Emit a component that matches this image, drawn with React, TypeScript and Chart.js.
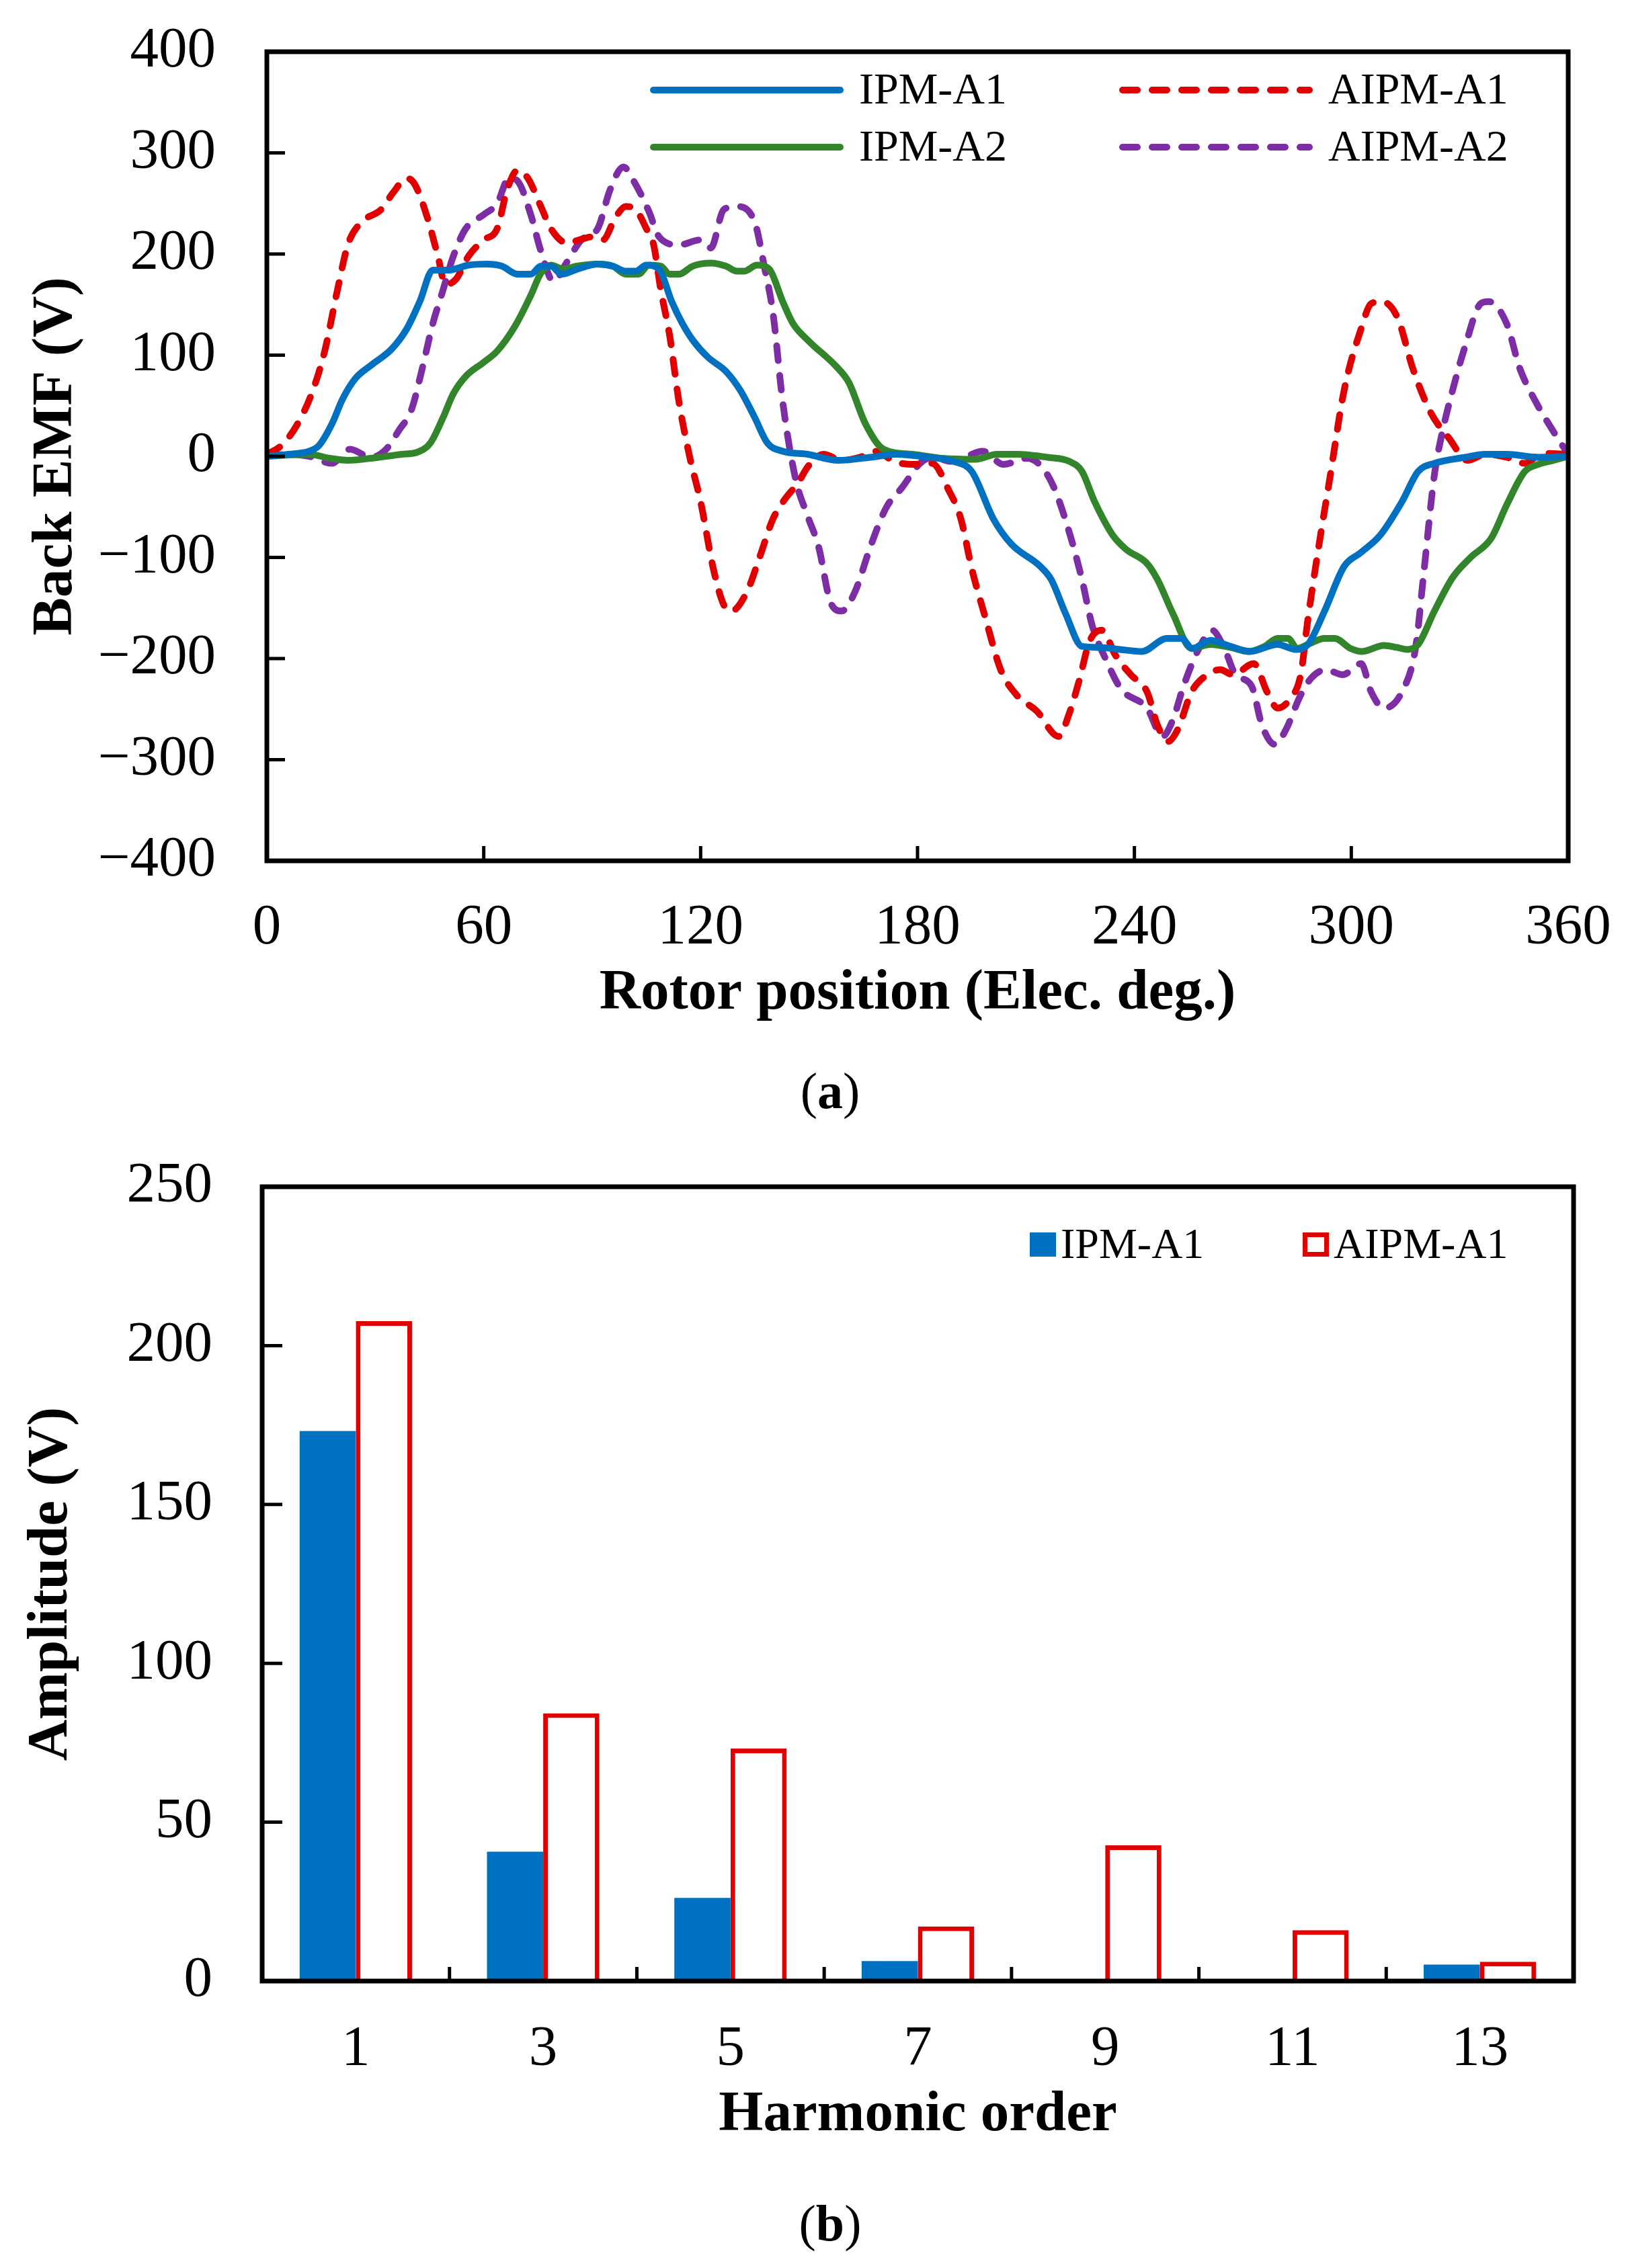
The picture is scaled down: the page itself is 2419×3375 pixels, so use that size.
import { useEffect, useRef } from "react";
import { Chart, registerables } from "chart.js";

Chart.register(...registerables);

const FONT = "'Liberation Serif', 'Times New Roman', serif";

// ---- (a) back EMF waveforms ----
const ipmA1Deg = [0, 6, 11.7, 14.5, 18, 21, 24.5, 28.8, 34.5, 38.7, 42.3, 45.9, 50, 55.8, 60.8, 65, 69.4, 73, 75.8, 78.6, 81.5, 85.8, 91.5, 95.7, 99.3, 102, 105, 108.5, 112, 115, 117.8, 122, 127, 131, 135, 138.5, 142.7, 149.6, 158, 167, 174, 183, 190, 195, 201, 206, 214, 217, 221, 225.5, 230.5, 236, 242, 249, 253, 256, 261, 266.6, 272, 279.6, 284.6, 288, 292.6, 298, 302.7, 308, 314, 318.5, 323, 331.5, 337, 343, 351.7, 360];
const ipmA1Emf = [0, 2, 5, 11, 32, 57, 77, 90, 106, 126, 153, 184, 184, 189, 190, 188, 180, 180, 188, 188, 180, 185, 190, 188, 183, 183, 189, 185, 153, 131, 115, 98, 84, 65, 38, 13, 5, 2, -4, -1, 2, -1, -5, -15, -62, -87, -109, -122, -156, -188, -189, -191, -193, -180, -180, -190, -182, -188, -193, -186, -191, -186, -153, -109, -95, -78, -45, -15, -7, -1, 2, 2, -1, 0];

const ipmA2Deg = [0, 11.7, 17.4, 22.4, 28.8, 37.3, 41.6, 45.2, 48.7, 51.6, 55, 60, 63.7, 68.7, 73, 75.8, 78.6, 82, 85.8, 91.5, 95.7, 99.3, 102.8, 105.7, 109, 111.4, 114, 117.8, 122.8, 127, 130, 132, 135.6, 139, 142.7, 145.6, 149.6, 158, 161, 165.6, 170.6, 178.6, 187, 196, 202, 207.4, 216, 222, 225.5, 229, 234, 237.7, 243.5, 246.4, 250.7, 255.8, 261, 266.6, 271.6, 276, 279.6, 282.5, 285, 288, 292.6, 295.4, 299.8, 303, 309, 312.6, 315.6, 318.5, 323, 328, 333, 338.7, 343, 348, 351.7, 356, 360];
const ipmA2Emf = [0, 2, -2, -4, -2, 2, 4, 13, 38, 62, 79, 93, 104, 129, 159, 181, 189, 185, 188, 190, 188, 180, 180, 189, 188, 180, 180, 188, 191, 188, 183, 183, 189, 185, 153, 131, 115, 87, 73, 32, 7, 2, -2, -3, 2, 2, -1, -5, -15, -45, -78, -92, -106, -122, -156, -190, -186, -189, -193, -188, -180, -180, -190, -186, -180, -180, -190, -193, -187, -189, -191, -186, -153, -120, -100, -81, -48, -15, -8, -4, 0];

const aipmA1Deg = [0, 3.8, 8, 12.4, 16, 19.5, 22.4, 26, 31.6, 35, 38.7, 40.9, 44.4, 47.3, 49.4, 52.3, 55.8, 60, 63.7, 66.5, 69.4, 72.2, 75.8, 78.6, 83, 86.5, 90, 93, 96.4, 99.3, 102, 105, 107, 109, 111.4, 114, 117, 120, 123.5, 126.4, 128.5, 132.8, 136.3, 140, 143.4, 147, 149.7, 154, 159, 164, 168.5, 173.5, 178.6, 184, 188.7, 192, 195, 198.8, 203, 207.4, 213, 219, 222, 224.7, 227.6, 231, 234.8, 239, 243.5, 246.4, 249.3, 252, 255.8, 259, 263.7, 267.3, 273, 276.7, 279.6, 283, 286, 288, 291, 294, 298, 302.7, 305.5, 308.4, 312.8, 317, 322, 327, 332.2, 337, 343, 348, 353, 360];
const aipmA1Emf = [2, 10, 29, 62, 104, 164, 209, 231, 244, 261, 275, 269, 236, 198, 170, 175, 198, 214, 225, 264, 283, 275, 247, 225, 211, 214, 217, 214, 236, 247, 244, 225, 209, 164, 120, 54, -1, -45, -111, -147, -153, -134, -100, -62, -42, -26, -10, 2, -4, -1, 5, -5, -8, -7, -34, -62, -111, -160, -211, -236, -252, -277, -254, -222, -183, -172, -197, -216, -233, -266, -282, -270, -233, -219, -211, -216, -205, -233, -249, -240, -216, -161, -89, -23, 65, 126, 151, 153, 137, 87, 43, 18, -4, 2, -1, -7, 3, 2];

const aipmA2Deg = [0, 6, 11.7, 18, 23, 28.8, 33, 36.6, 40, 43, 45.9, 48.7, 51.6, 55, 60, 63.7, 67, 69.4, 73, 75.8, 79.3, 83, 87, 91.5, 95, 98.6, 102, 105.7, 108.5, 114, 120, 122.8, 126.4, 130, 135, 137.7, 140, 142.7, 146.3, 149.7, 152.6, 156, 159, 162.7, 167, 171.3, 175.7, 180.7, 184.3, 189.4, 193, 198, 203.8, 210.3, 214, 217.5, 221.8, 225.5, 228.3, 232, 236.3, 243.5, 247.8, 250.7, 253.6, 258, 261.5, 265, 268, 272.4, 275.3, 278.9, 281.8, 286, 289, 293, 297.6, 302.7, 305.5, 309, 314, 317.8, 320, 323, 325, 328, 331.5, 335.8, 338, 343, 346.6, 351, 356, 360];
const aipmA2Emf = [0, 2, 0, -7, 7, -1, 7, 26, 46, 87, 131, 164, 198, 225, 239, 250, 275, 272, 239, 203, 173, 192, 214, 225, 264, 286, 269, 242, 217, 209, 214, 206, 244, 247, 231, 186, 142, 54, -23, -60, -89, -145, -153, -134, -89, -51, -31, -7, -1, -5, -1, 5, -8, -2, -9, -29, -73, -122, -167, -200, -230, -249, -277, -260, -227, -189, -172, -191, -216, -227, -266, -285, -271, -236, -219, -211, -216, -205, -233, -249, -233, -189, -117, -18, 21, 65, 109, 151, 153, 131, 87, 54, 24, 2];

// ---- (b) harmonic spectrum ----
const harmonicOrders = ["1", "3", "5", "7", "9", "11", "13"];
const ipmA1Amp = [173.1, 40.7, 26.2, 6.3, 0.5, 0.5, 5.2];
const aipmA1Amp = [207.7, 84.3, 73.2, 17.2, 42.7, 16, 6.1];

const toPoints = (xs: number[], ys: number[]) => xs.map((x, i) => ({ x, y: ys[i] }));
const minusFmt = (v: any) => (Number(v) < 0 ? "\u2212" + Math.abs(Number(v)) : String(v));

// invisible tick marks are used as the label gap, so ticks.padding stays 0
// (ticks.padding would also be added to the layout padding of the axis)
const gapGrid = (len: number) => ({
  display: true,
  drawOnChartArea: false,
  drawTicks: true,
  tickLength: len,
  tickColor: "rgba(0,0,0,0)",
});

// box round the plot area with short inward ticks (like the Excel original)
const framePlugin = {
  id: "frame",
  afterDatasetsDraw(chart: any, _args: any, opts: any) {
    const { ctx } = chart;
    const { left, right, top, bottom } = chart.chartArea;
    const xs = chart.scales.x;
    const ys = chart.scales.y;
    ctx.save();
    ctx.strokeStyle = "#000";
    ctx.lineWidth = opts.tickWidth;
    ctx.beginPath();
    ys.ticks.forEach((t: any) => {
      if (t.value <= ys.min || t.value >= ys.max) return;
      const py = ys.getPixelForValue(t.value);
      ctx.moveTo(left, py);
      ctx.lineTo(left + opts.yTickLen, py);
    });
    if (opts.between) {
      for (let i = 1; i < xs.ticks.length; i++) {
        const px = (xs.getPixelForTick(i - 1) + xs.getPixelForTick(i)) / 2;
        ctx.moveTo(px, bottom);
        ctx.lineTo(px, bottom - opts.xTickLen);
      }
    } else {
      xs.ticks.forEach((t: any) => {
        if (t.value <= xs.min || t.value >= xs.max) return;
        const px = xs.getPixelForValue(t.value);
        ctx.moveTo(px, bottom);
        ctx.lineTo(px, bottom - opts.xTickLen);
      });
    }
    ctx.stroke();
    ctx.lineWidth = opts.lineWidth;
    ctx.strokeRect(left, top, right - left, bottom - top);
    ctx.restore();
  },
};

// legend drawn by hand: 2 x 2 line keys inside the plot
const lineKeyPlugin = {
  id: "lineKey",
  afterDraw(chart: any, _args: any, opts: any) {
    const { ctx } = chart;
    ctx.save();
    ctx.font = `${opts.fontSize}px ${FONT}`;
    ctx.textBaseline = "middle";
    ctx.fillStyle = "#000";
    opts.entries.forEach((e: any) => {
      const ds = chart.data.datasets[e.ds];
      ctx.beginPath();
      ctx.strokeStyle = ds.borderColor;
      ctx.lineWidth = ds.borderWidth;
      ctx.lineCap = "round";
      ctx.setLineDash(ds.borderDash || []);
      ctx.moveTo(e.x, e.y);
      ctx.lineTo(e.x + opts.lineLen, e.y);
      ctx.stroke();
      ctx.setLineDash([]);
      ctx.fillText(ds.label, e.x + opts.lineLen + opts.gap, e.y + 3);
    });
    ctx.restore();
  },
};

const boxKeyPlugin = {
  id: "boxKey",
  afterDraw(chart: any, _args: any, opts: any) {
    const { ctx } = chart;
    ctx.save();
    ctx.font = `${opts.fontSize}px ${FONT}`;
    ctx.textBaseline = "middle";
    opts.entries.forEach((e: any) => {
      const ds = chart.data.datasets[e.ds];
      const w = opts.boxW;
      const h = opts.boxH;
      const y0 = e.y - h / 2;
      ctx.fillStyle = ds.backgroundColor;
      ctx.fillRect(e.x, y0, w, h);
      if (ds.borderWidth) {
        const b = ds.borderWidth;
        ctx.strokeStyle = ds.borderColor;
        ctx.lineWidth = b;
        ctx.strokeRect(e.x + b / 2, y0 + b / 2, w - b, h - b);
      }
      ctx.fillStyle = "#000";
      ctx.fillText(ds.label, e.x + w + opts.gap, e.y + 3);
    });
    ctx.restore();
  },
};

function EmfChart() {
  const canvasRef = useRef<HTMLCanvasElement | null>(null);

  useEffect(() => {
    if (!canvasRef.current) return;
    const line = (label: string, xs: number[], ys: number[], color: string, dashed: boolean) => ({
      label,
      data: toPoints(xs, ys),
      borderColor: color,
      backgroundColor: color,
      borderWidth: 10,
      borderDash: dashed ? [22, 22] : [],
      borderCapStyle: "round",
      borderJoinStyle: "round",
      pointRadius: 0,
      cubicInterpolationMode: "monotone",
      fill: false,
    });

    const chart = new Chart(canvasRef.current, {
      type: "line",
      data: {
        datasets: [
          line("IPM-A1", ipmA1Deg, ipmA1Emf, "#0070C0", false),
          line("IPM-A2", ipmA2Deg, ipmA2Emf, "#33852B", false),
          line("AIPM-A1", aipmA1Deg, aipmA1Emf, "#E00000", true),
          line("AIPM-A2", aipmA2Deg, aipmA2Emf, "#7E2EA4", true),
        ] as any,
      },
      options: {
        animation: false,
        responsive: false,
        devicePixelRatio: 1,
        layout: { padding: { top: 77, right: 86, left: 0, bottom: 0 } },
        plugins: {
          legend: { display: false },
          tooltip: { enabled: false },
          frame: { lineWidth: 7, tickWidth: 5, xTickLen: 22, yTickLen: 27 },
          lineKey: {
            fontSize: 66,
            lineLen: 278,
            gap: 28,
            entries: [
              { ds: 0, x: 972, y: 134 },
              { ds: 1, x: 972, y: 219 },
              { ds: 2, x: 1670, y: 134 },
              { ds: 3, x: 1670, y: 219 },
            ],
          },
        } as any,
        scales: {
          x: {
            type: "linear",
            min: 0,
            max: 360,
            grid: gapGrid(50),
            border: { display: false },
            ticks: { stepSize: 60, maxRotation: 0, autoSkip: false, padding: 0, color: "#000", font: { size: 85, family: FONT } },
            title: { display: true, text: "Rotor position (Elec. deg.)", color: "#000", font: { size: 85, weight: "bold", family: FONT }, padding: { top: 0, bottom: 30 } },
            afterFit: (s: any) => { s.height = 279; },
          },
          y: {
            min: -400,
            max: 400,
            grid: gapGrid(76),
            border: { display: false },
            ticks: { stepSize: 100, autoSkip: false, padding: 0, color: "#000", font: { size: 85, family: FONT }, callback: minusFmt },
            title: { display: true, text: "Back EMF (V)", color: "#000", font: { size: 85, weight: "bold", family: FONT }, padding: { top: 33, bottom: 0 } },
            afterFit: (s: any) => { s.width = 397; },
          },
        } as any,
      },
      plugins: [framePlugin, lineKeyPlugin],
    });

    return () => {
      chart.destroy();
    };
  }, []);

  return <canvas ref={canvasRef} width={2419} height={1560} style={{ position: "absolute", left: 0, top: 0, width: 2419, height: 1560 }} />;
}

function SpectrumChart() {
  const canvasRef = useRef<HTMLCanvasElement | null>(null);

  useEffect(() => {
    if (!canvasRef.current) return;
    const chart = new Chart(canvasRef.current, {
      type: "bar",
      data: {
        labels: harmonicOrders,
        datasets: [
          { label: "IPM-A1", data: ipmA1Amp, backgroundColor: "#0070C0", borderWidth: 0 },
          { label: "AIPM-A1", data: aipmA1Amp, backgroundColor: "#FFFFFF", borderColor: "#E00000", borderWidth: 7 },
        ],
      },
      options: {
        animation: false,
        responsive: false,
        devicePixelRatio: 1,
        categoryPercentage: 0.6,
        barPercentage: 1.0,
        layout: { padding: { top: 76, right: 78, left: 0, bottom: 0 } },
        plugins: {
          legend: { display: false },
          tooltip: { enabled: false },
          frame: { lineWidth: 7, tickWidth: 5, xTickLen: 21, yTickLen: 30, between: true },
          boxKey: {
            fontSize: 64,
            boxW: 39,
            boxH: 36,
            gap: 7,
            entries: [
              { ds: 0, x: 1532, y: 162 },
              { ds: 1, x: 1938, y: 162 },
            ],
          },
        } as any,
        scales: {
          x: {
            grid: { ...gapGrid(52), offset: true },
            border: { display: false },
            ticks: { maxRotation: 0, padding: 0, color: "#000", font: { size: 85, family: FONT } },
            title: { display: true, text: "Harmonic order", color: "#000", font: { size: 85, weight: "bold", family: FONT }, padding: { top: 0, bottom: 31 } },
            afterFit: (s: any) => { s.height = 282; },
          },
          y: {
            min: 0,
            max: 250,
            grid: gapGrid(74),
            border: { display: false },
            ticks: { stepSize: 50, padding: 0, color: "#000", font: { size: 85, family: FONT } },
            title: { display: true, text: "Amplitude (V)", color: "#000", font: { size: 85, weight: "bold", family: FONT }, padding: { top: 26, bottom: 0 } },
            afterFit: (s: any) => { s.width = 390; },
          },
        } as any,
      },
      plugins: [framePlugin, boxKeyPlugin],
    });

    return () => {
      chart.destroy();
    };
  }, []);

  return <canvas ref={canvasRef} width={2419} height={1540} style={{ position: "absolute", left: 0, top: 1690, width: 2419, height: 1540 }} />;
}

const captionStyle = (top: number): any => ({
  position: "absolute",
  left: 1235,
  top,
  transform: "translate(-50%, -50%)",
  fontFamily: FONT,
  fontSize: 76,
  lineHeight: 1,
  color: "#000",
  whiteSpace: "nowrap",
});

export default function App() {
  return (
    <div style={{ position: "absolute", left: 0, top: 0, width: 2419, height: 3375, background: "#fff" }}>
      <EmfChart />
      <div style={captionStyle(1623)}>(<b>a</b>)</div>
      <SpectrumChart />
      <div style={captionStyle(3308)}>(<b>b</b>)</div>
    </div>
  );
}
